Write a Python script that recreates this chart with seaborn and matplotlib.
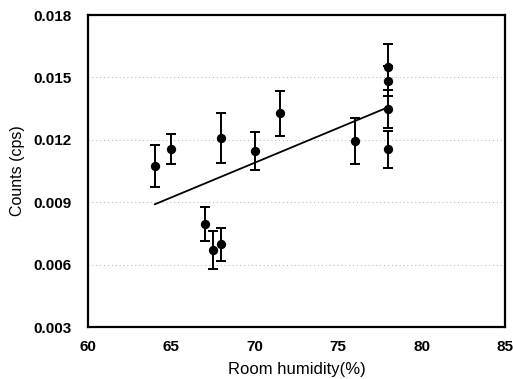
import numpy as np
import pandas as pd
import matplotlib
matplotlib.use("Agg")
import matplotlib.pyplot as plt
import seaborn as sns

humidity = [64, 65, 67, 67.5, 68, 68, 70, 71.5, 76, 78, 78, 78, 78]
counts = [0.01075, 0.01156, 0.00795, 0.0067, 0.00697, 0.01207, 0.01146,
          0.01327, 0.01196, 0.01549, 0.01483, 0.01348, 0.01154]
errors = [0.0010, 0.0007, 0.0008, 0.0009, 0.0008, 0.0012, 0.0009,
          0.0011, 0.0011, 0.0011, 0.0007, 0.0009, 0.0009]
xticks = [60, 65, 70, 75, 80, 85]
yticks = [0.003, 0.006, 0.009, 0.012, 0.015, 0.018]
ytick_labels = ["0.003", "0.006", "0.009", "0.012", "0.015", "0.018"]

df = pd.DataFrame({"humidity": humidity, "counts": counts, "err": errors})

sns.set_style("white")
plt.rcParams['font.family'] = ['Liberation Sans', 'DejaVu Sans']

fig = plt.figure(figsize=(5.13, 3.79), dpi=100)
ax = fig.add_axes([0.1715, 0.1372, 0.8129, 0.8232])

for yv in yticks[1:-1]:
    ax.axhline(yv, color="#bdbdbd", lw=0.8, ls=(0, (1, 2.5)), zorder=0)

ax.errorbar(df["humidity"], df["counts"], yerr=df["err"], fmt="none",
            ecolor="black", elinewidth=1.4, capsize=3.8, capthick=1.4, zorder=2)
sns.scatterplot(data=df, x="humidity", y="counts", ax=ax, color="black",
                s=45, edgecolor="black", linewidth=0, zorder=3)
sns.regplot(data=df, x="humidity", y="counts", ax=ax, scatter=False, ci=None,
            truncate=True, line_kws={"color": "black", "lw": 1.3, "zorder": 2})

ax.set_xlim(60, 85)
ax.set_ylim(0.003, 0.018)
ax.set_xticks(xticks)
ax.set_xticklabels([str(t) for t in xticks])
ax.set_yticks(yticks)
ax.set_yticklabels(ytick_labels)
ax.tick_params(direction="in", length=4, width=1.5, colors="black",
               labelsize=11)
ax.tick_params(axis="x", pad=9)
ax.tick_params(axis="y", pad=12)
for lab in ax.get_xticklabels() + ax.get_yticklabels():
    lab.set_fontweight("bold")
for sp in ax.spines.values():
    sp.set_visible(True)
    sp.set_color("black")
    sp.set_linewidth(1.6)

ax.set_xlabel("Room humidity(%)", fontsize=12, labelpad=6, color="black")
ax.set_ylabel("Counts (cps)", fontsize=11.5, labelpad=6, color="black")

fig.savefig("out.png", dpi=100)
